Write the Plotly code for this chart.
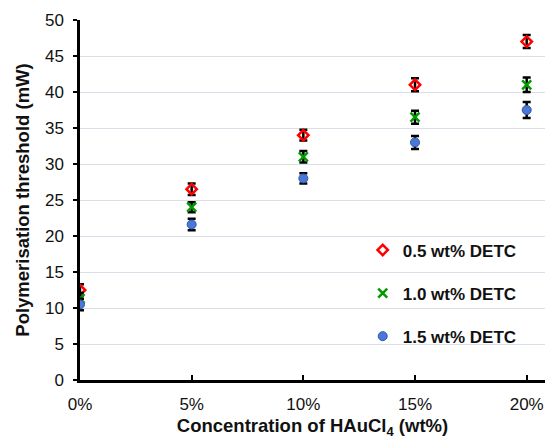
import plotly.graph_objects as go

conc = [0, 5, 10, 15, 20]
x_ticklabels = ["0%", "5%", "10%", "15%", "20%"]

detc05 = [12.5, 26.5, 34.0, 41.0, 47.0]
detc05_err = [0.8, 0.8, 0.75, 0.9, 0.9]
detc10 = [11.3, 24.0, 31.0, 36.5, 41.0]
detc10_err = [0.8, 0.7, 0.8, 0.9, 1.0]
detc15 = [10.5, 21.6, 28.0, 33.0, 37.5]
detc15_err = [0.8, 0.8, 0.7, 0.9, 1.1]

names = ["0.5 wt% DETC", "1.0 wt% DETC", "1.5 wt% DETC"]

fig = go.Figure()

def err(vals):
    return dict(type="data", array=vals, visible=True, color="black", thickness=2.5, width=4)

fig.add_trace(go.Scatter(
    x=conc, y=detc05, mode="markers", name=names[0], legendgroup="a",
    error_y=err(detc05_err),
    marker=dict(symbol="diamond-open", size=8, color="#FF0000", line=dict(width=2.5, color="#FF0000")),
))
fig.add_trace(go.Scatter(
    x=conc, y=detc10, mode="markers", name=names[1], legendgroup="b",
    error_y=err(detc10_err),
    marker=dict(symbol="x-thin", size=9, color="#009900", line=dict(width=2.5, color="#009900")),
))
fig.add_trace(go.Scatter(
    x=conc, y=detc15, mode="markers", name=names[2], legendgroup="c",
    error_y=err(detc15_err),
    marker=dict(symbol="circle", size=9, color="#4A78D6", line=dict(width=1, color="#2F55B0")),
))

fig.update_layout(
    width=545, height=439,
    margin=dict(l=80, r=0, t=20, b=59),
    paper_bgcolor="white", plot_bgcolor="white",
    font=dict(family="Liberation Sans, Arial, sans-serif", color="#111111", size=17),
    showlegend=True,
    legend=dict(
        x=0.608, y=0.41, xanchor="left", yanchor="top",
        bgcolor="rgba(0,0,0,0)",
        font=dict(size=17, family="Liberation Sans, Arial, sans-serif", color="#111111", weight="bold"),
        tracegroupgap=18, itemwidth=30,
    ),
)
fig.update_xaxes(
    range=[0, 20.82], tickvals=conc, ticktext=x_ticklabels,
    showline=True, linecolor="black", linewidth=2.5,
    ticks="inside", ticklen=5, tickwidth=2, tickcolor="black",
    showgrid=False, zeroline=False,
    tickfont=dict(size=17), ticklabelstandoff=7,
    title=dict(text="<b>Concentration of HAuCl<sub>4</sub> (wt%)</b>", font=dict(size=18.5), standoff=9),
)
fig.update_yaxes(
    range=[0, 50], dtick=5,
    showline=True, linecolor="black", linewidth=2.5,
    ticks="outside", ticklen=4, tickwidth=2, tickcolor="black",
    showgrid=True, gridcolor="#D9DEE8", gridwidth=1.2, zeroline=False,
    tickfont=dict(size=17), ticklabelstandoff=6,
    title=dict(text="<b>Polymerisation threshold (mW)</b>", font=dict(size=18.5), standoff=11),
)

fig.write_html(
    "out.html",
    config={"displayModeBar": False},
    post_script="document.body.style.margin='0';document.body.style.overflow='hidden';",
)
